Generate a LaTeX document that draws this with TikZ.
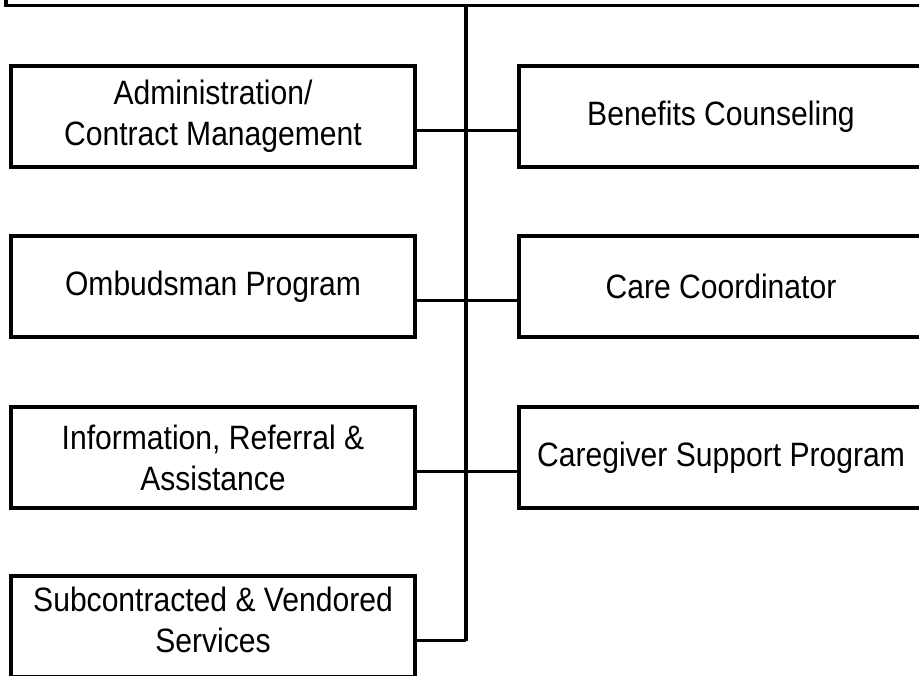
\documentclass[tikz,border=0pt]{standalone}
\usepackage{fontspec}
\setmainfont{Liberation Sans}[FakeStretch=0.89]
\begin{document}
\begin{tikzpicture}[x=1pt,y=-1pt,
  unit/.style={draw=black, line width=3.1pt, fill=white,
    minimum width=404pt, minimum height=101pt, inner sep=0pt, outer sep=0pt,
    align=center, font=\fontsize{33.8}{41}\selectfont},
  link/.style={draw=black, line width=3.1pt}]
\useasboundingbox (0,0) rectangle (919,676);

% parent box along the top edge
\node[draw=black, line width=3.1pt, minimum width=930pt, minimum height=60pt,
  inner sep=0pt, outer sep=0pt, anchor=south west] (top) at (6,5.5) {};

% left column
\node[unit] (adm) at (213,116.5) {Administration/\\Contract Management};
\node[unit] (omb) at (213,286.5) {Ombudsman Program};
\node[unit] (inf) at (213,457.5) {Information, Referral \&\\Assistance};
\node[unit, label={[name=subtxt, yshift=6.5pt, align=center,
  font=\fontsize{33.8}{41}\selectfont]center:Subcontracted \& Vendored\\Services}]
  (sub) at (213,626.5) {};

% right column
\node[unit] (ben) at (721,116.5) {Benefits Counseling};
\node[unit] (care) at (721,286.5) {Care Coordinator};
\node[unit] (cgs) at (721,457.5) {Caregiver Support Program};

% trunk junctions
\coordinate (j1) at (466,130.5);
\coordinate (j2) at (466,300.5);
\coordinate (j3) at (466,471.5);
\coordinate (j4) at (466,640.5);

\draw[link] (top.south -| j1) -- (j4);
\draw[link] (adm.east |- j1) -- (j1) -- (ben.west |- j1);
\draw[link] (omb.east |- j2) -- (j2) -- (care.west |- j2);
\draw[link] (inf.east |- j3) -- (j3) -- (cgs.west |- j3);
\draw[link] (sub.east |- j4) -- (j4);
\end{tikzpicture}
\end{document}
